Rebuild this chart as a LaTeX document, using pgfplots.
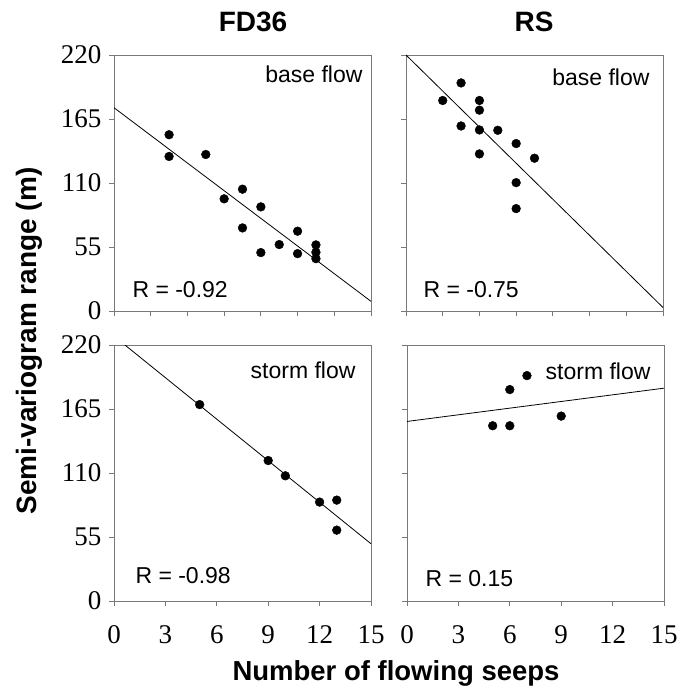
\documentclass[border=0pt]{standalone}
\usepackage{fontspec}
\setmainfont{Liberation Sans}
\newfontfamily\tickfont{Liberation Serif}
\usepackage{pgfplots}
\pgfplotsset{compat=1.18}
\definecolor{framegray}{RGB}{120,120,120}

\pgfplotsset{
  panel/.style={
    width=257pt, height=256pt, scale only axis,
    ymin=0, ymax=220, ytick={0,55,110,165,220},
    axis line style={framegray, line width=0.9pt},
    tick style={framegray, line width=0.9pt},
    major tick length=5pt, tick align=outside,
    xtick pos=bottom, ytick pos=left,
    tick label style={font=\fontsize{27}{30}\selectfont\tickfont},
    /pgf/number format/assume math mode=true,
    yticklabel style={xshift=-4pt},
    xticklabel style={yshift=-16pt},
    anchor=south west,
  },
  toprow/.style={xmin=0, xmax=14, xtick={0,2,...,14}, xticklabels={}},
  botrow/.style={xmin=0, xmax=15, xtick={0,3,...,15}},
  nolabels/.style={yticklabels={}},
  pts/.style={only marks, mark=*, mark size=4.4pt, black},
  fitline/.style={black, line width=0.8pt, no marks},
}
\newcommand{\flow}[3]{\node[anchor=base east, font=\fontsize{23}{27}\selectfont, xshift=-#2, yshift=-#3] at (rel axis cs:1,1) {#1};}
\newcommand{\rval}[3]{\node[anchor=base west, font=\fontsize{23}{27}\selectfont, xshift=#2, yshift=#3] at (rel axis cs:0,0) {#1};}

\begin{document}
\begin{tikzpicture}
\path (0,0) rectangle (689pt,-692pt);

% FD36 base flow
\begin{axis}[panel, toprow, at={(114pt,-311pt)}]
\addplot[pts] coordinates {
  (3,151.5) (3,132.8) (5,134.5) (6,96.4) (7,104.7) (7,71.4) (8,89.5)
  (8,50.2) (9,57.1) (10,68.6) (10,49.3) (11,56.8) (11,50.5) (11,45.0)
};
\addplot[fitline] coordinates {(0,174.7) (14,8.3)};
\flow{base flow}{5pt}{28pt}
\rval{R = -0.92}{15pt}{14pt}
\end{axis}

% RS base flow
\begin{axis}[panel, toprow, nolabels, at={(406pt,-311pt)}]
\addplot[pts] coordinates {
  (2,180.9) (3,196) (3,159) (4,180.9) (4,172.6) (4,155.6) (4,135)
  (5,155.3) (6,143.9) (6,110.3) (6,88) (7,131.3)
};
\addplot[fitline] coordinates {(0,220) (14,3)};
\flow{base flow}{10pt}{31pt}
\rval{R = -0.75}{14pt}{14pt}
\end{axis}

% FD36 storm flow
\begin{axis}[panel, botrow, at={(114pt,-601pt)}]
\addplot[pts] coordinates {
  (5,168.8) (9,120.7) (10,107.6) (12,85) (13,86.7) (13,60.9)
};
\addplot[fitline] coordinates {(0,227.6) (15,49.2)};
\flow{storm flow}{12pt}{33pt}
\rval{R = -0.98}{18pt}{18pt}
\end{axis}

% RS storm flow
\begin{axis}[panel, botrow, nolabels, at={(407pt,-601pt)}]
\addplot[pts] coordinates {
  (5,150.6) (6,150.6) (6,181.7) (7,193.7) (9,158.9)
};
\addplot[fitline] coordinates {(0,154.3) (15,182.9)};
\flow{storm flow}{10pt}{34pt}
\rval{R = 0.15}{15pt}{15pt}
\end{axis}

\node[font=\fontsize{28}{32}\selectfont\bfseries] at (253pt,-22pt) {FD36};
\node[font=\fontsize{28}{32}\selectfont\bfseries] at (534pt,-22pt) {RS};
\node[font=\fontsize{27.5}{31}\selectfont\bfseries] at (396pt,-673pt) {Number of flowing seeps};
\node[font=\fontsize{28}{32}\selectfont\bfseries, rotate=90] at (29pt,-341pt) {Semi-variogram range (m)};
\end{tikzpicture}
\end{document}
